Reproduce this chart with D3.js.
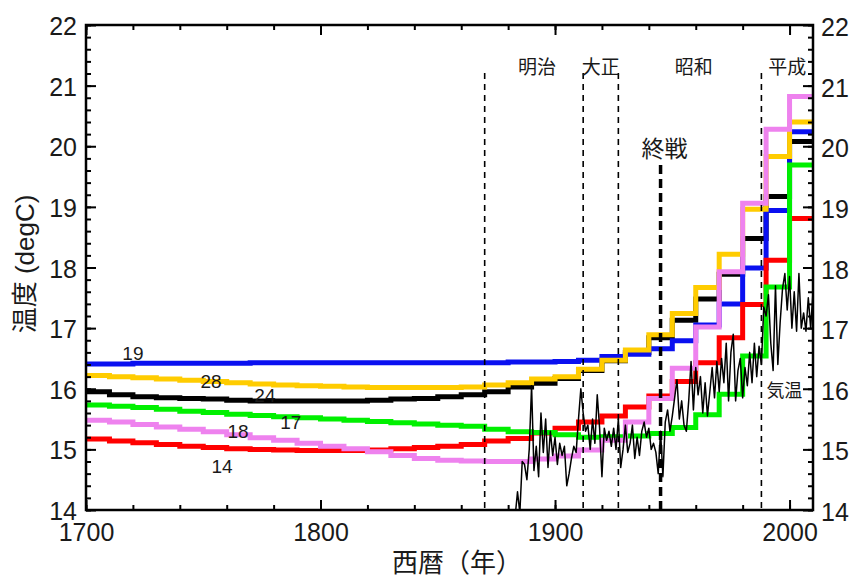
<!DOCTYPE html>
<html>
<head>
<meta charset="utf-8">
<script src="https://cdn.jsdelivr.net/npm/d3@7/dist/d3.min.js"></script>
<style>
  body { margin: 0; background: #fff; }
  text { font-family: "Liberation Sans", Arial, "Noto Sans CJK JP", sans-serif; fill: #1a1a1a; }
</style>
</head>
<body>
<div id="chart"></div>
<script>
// decade bins, each value holds until the next decade
const decades = [1700, 1710, 1720, 1730, 1740, 1750, 1760, 1770, 1780, 1790,
  1800, 1810, 1820, 1830, 1840, 1850, 1860, 1870, 1880, 1890,
  1900, 1910, 1920, 1930, 1940, 1950, 1960, 1970, 1980, 1990, 2000]
const lastYear = 2010

const s19 = [16.41, 16.41, 16.42, 16.42, 16.42, 16.42, 16.42, 16.43, 16.43, 16.43,
  16.43, 16.43, 16.43, 16.43, 16.43, 16.43, 16.43, 16.43, 16.44, 16.44,
  16.45, 16.47, 16.53, 16.57, 16.66, 16.79, 17.05, 17.40, 17.99, 18.94, 20.24]
const s28 = [16.22, 16.20, 16.18, 16.16, 16.14, 16.12, 16.10, 16.08, 16.06, 16.05,
  16.04, 16.03, 16.02, 16.02, 16.02, 16.02, 16.03, 16.06, 16.10, 16.16,
  16.20, 16.32, 16.47, 16.64, 16.89, 17.24, 17.67, 18.22, 18.96, 19.83, 20.40]
const s24 = [15.95, 15.90, 15.87, 15.85, 15.84, 15.83, 15.81, 15.80, 15.80, 15.80,
  15.80, 15.80, 15.81, 15.83, 15.84, 15.87, 15.90, 15.95, 16.03, 16.09,
  16.17, 16.30, 16.46, 16.60, 16.84, 17.13, 17.48, 17.89, 18.48, 19.17, 20.08]
const s17 = [15.73, 15.71, 15.69, 15.66, 15.63, 15.61, 15.58, 15.56, 15.54, 15.52,
  15.50, 15.48, 15.46, 15.44, 15.42, 15.40, 15.38, 15.33, 15.29, 15.28,
  15.24, 15.20, 15.21, 15.22, 15.26, 15.36, 15.57, 15.91, 16.54, 17.68, 19.69]
const s18 = [15.48, 15.45, 15.41, 15.37, 15.33, 15.29, 15.24, 15.19, 15.15, 15.10,
  15.05, 15.01, 14.96, 14.90, 14.85, 14.82, 14.81, 14.80, 14.80, 14.84,
  14.89, 14.99, 15.15, 15.45, 15.84, 16.34, 17.02, 17.93, 19.06, 20.28, 20.82]
const s14 = [15.17, 15.14, 15.11, 15.08, 15.05, 15.03, 15.01, 15.00, 14.99, 14.98,
  14.98, 14.98, 14.99, 15.01, 15.03, 15.05, 15.08, 15.14, 15.18, 15.27,
  15.35, 15.45, 15.55, 15.70, 15.88, 16.12, 16.43, 16.84, 17.39, 18.12, 18.81]

// observed annual temperature (気温), 1883 onwards
const obsStart = 1883
const obs = [13.9, 14.3, 13.95, 14.8, 14.75, 14.5, 15.0, 16.05, 14.65, 15.05,
  14.55, 15.6, 14.95, 15.5, 14.7, 15.3, 14.9, 15.2, 14.75, 15.1,
  14.9, 15.05, 14.4, 14.6, 14.85, 15.05, 14.95, 15.5, 16.0, 15.6,
  15.3, 15.4, 15.0, 15.5, 15.1, 15.9, 15.35, 14.55, 15.35, 15.15,
  15.3, 15.05, 15.35, 15.0, 15.5, 14.7, 15.0, 15.4, 14.95, 15.1,
  15.4, 14.85, 15.2, 14.9, 15.3, 15.45, 15.2, 15.35, 15.0, 15.1,
  14.95, 14.6, 15.3, 14.55, 15.45, 15.65, 15.3, 15.55, 15.85, 16.15,
  15.5, 15.8, 15.4, 15.3, 15.8, 16.45, 15.65, 16.35, 15.9, 16.2,
  15.6, 16.1, 15.55, 15.95, 16.35, 15.85, 16.45, 15.95, 16.5, 16.1,
  16.75, 15.8, 16.6, 16.9, 15.8, 16.3, 16.5, 15.85, 16.35, 16.05,
  16.6, 16.1, 16.75, 16.2, 16.7, 16.4, 17.35, 17.2, 17.55, 16.75,
  16.3, 17.7, 16.4, 17.1, 17.65, 17.9, 17.3, 17.85, 17.0, 17.6,
  16.95, 17.9, 17.0, 17.25, 16.95, 17.5, 17.0, 17.6]

const eraNames = ['明治', '大正', '昭和', '平成']
const eraStarts = [1870, 1912, 1927, 1988]
const warYear = 1945

const xTickLabels = [1700, 1800, 1900, 2000]
const yTickLabels = [14, 15, 16, 17, 18, 19, 20, 21, 22]

const width = 850
const height = 578
const plot = { left: 86, right: 813, top: 25, bottom: 510 }

const x = d3.scaleLinear().domain([1700, lastYear]).range([plot.left, plot.right])
const y = d3.scaleLinear().domain([14, 22]).range([plot.bottom, plot.top])

const svg = d3.select('#chart').append('svg')
  .attr('width', width)
  .attr('height', height)

svg.append('defs').append('clipPath').attr('id', 'plotclip')
  .append('rect')
  .attr('x', plot.left).attr('y', plot.top)
  .attr('width', plot.right - plot.left).attr('height', plot.bottom - plot.top)

// step curves
const series = [
  { label: '24', color: '#000000', values: s24, at: [1776.3, 15.78] },
  { label: '19', color: '#0a10f0', values: s19, at: [1720, 16.47] },
  { label: '14', color: '#ff0000', values: s14, at: [1758, 14.61] },
  { label: '17', color: '#00f000', values: s17, at: [1787.3, 15.34] },
  { label: '28', color: '#ffcc00', values: s28, at: [1753.3, 16.01] },
  { label: '18', color: '#ee82ee', values: s18, at: [1764.8, 15.19] }
]

const step = d3.line()
  .x(d => x(d[0]))
  .y(d => y(d[1]))
  .curve(d3.curveStepAfter)

const lines = svg.append('g').attr('clip-path', 'url(#plotclip)')

series.forEach(s => {
  const pts = decades.map((yr, i) => [yr, s.values[i]])
  pts.push([lastYear, s.values[s.values.length - 1]])
  lines.append('path')
    .attr('d', step(pts))
    .attr('fill', 'none')
    .attr('stroke', s.color)
    .attr('stroke-width', 5)
    .attr('stroke-linejoin', 'miter')
})

const obsLine = d3.line()
  .x((d, i) => x(obsStart + i))
  .y(d => y(d))

lines.append('path')
  .attr('d', obsLine(obs))
  .attr('fill', 'none')
  .attr('stroke', '#000')
  .attr('stroke-width', 1.5)
  .attr('stroke-linejoin', 'round')

// era boundaries
svg.append('g').selectAll('line')
  .data(eraStarts)
  .join('line')
  .attr('x1', d => x(d)).attr('x2', d => x(d))
  .attr('y1', 73).attr('y2', plot.bottom)
  .attr('stroke', '#000')
  .attr('stroke-width', 1.6)
  .attr('stroke-dasharray', '6,5')

svg.append('line')
  .attr('x1', x(warYear)).attr('x2', x(warYear))
  .attr('y1', 165).attr('y2', plot.bottom)
  .attr('stroke', '#000')
  .attr('stroke-width', 3.5)
  .attr('stroke-dasharray', '9,5')

const eraEnds = eraStarts.slice(1).concat([lastYear])
svg.append('g').selectAll('text')
  .data(eraNames)
  .join('text')
  .attr('x', (d, i) => x((eraStarts[i] + eraEnds[i]) / 2) + (i === 0 ? 3 : i === 2 ? 4 : 0))
  .attr('y', 74)
  .attr('text-anchor', 'middle')
  .style('font-size', '19px')
  .text(d => d)

svg.append('text')
  .attr('x', x(warYear) + 4).attr('y', 157)
  .attr('text-anchor', 'middle')
  .style('font-size', '23px')
  .text('終戦')

svg.append('text')
  .attr('x', x(1997.8)).attr('y', 397)
  .attr('text-anchor', 'middle')
  .style('font-size', '18px')
  .text('気温')

svg.append('g').selectAll('text')
  .data(series)
  .join('text')
  .attr('x', d => x(d.at[0]))
  .attr('y', d => y(d.at[1]))
  .attr('text-anchor', 'middle')
  .style('font-size', '19px')
  .text(d => d.label)

// axes, ticks point inward on all four sides
const xMinor = d3.range(1700, lastYear + 1, 20)
const yMinor = d3.range(14, 22.01, 0.2)

function styleAxis(g) {
  g.select('.domain').remove()
  g.selectAll('.tick line').attr('stroke', '#000').attr('stroke-width', 2)
  g.selectAll('.tick text').style('font-size', '25px').attr('fill', '#1a1a1a')
}

svg.append('g').attr('transform', `translate(0,${plot.bottom})`)
  .call(d3.axisBottom(x).tickValues(xMinor).tickSize(-5).tickFormat(''))
  .call(styleAxis)
svg.append('g').attr('transform', `translate(0,${plot.bottom})`)
  .call(d3.axisBottom(x).tickValues(xTickLabels).tickSize(-10).tickPadding(13).tickFormat(d3.format('d')))
  .call(styleAxis)
svg.append('g').attr('transform', `translate(0,${plot.top})`)
  .call(d3.axisTop(x).tickValues(xMinor).tickSize(-5).tickFormat(''))
  .call(styleAxis)
svg.append('g').attr('transform', `translate(0,${plot.top})`)
  .call(d3.axisTop(x).tickValues(xTickLabels).tickSize(-10).tickFormat(''))
  .call(styleAxis)

svg.append('g').attr('transform', `translate(${plot.left},0)`)
  .call(d3.axisLeft(y).tickValues(yMinor).tickSize(-5).tickFormat(''))
  .call(styleAxis)
svg.append('g').attr('transform', `translate(${plot.left},0)`)
  .call(d3.axisLeft(y).tickValues(yTickLabels).tickSize(-10).tickPadding(9).tickFormat(d3.format('d')))
  .call(styleAxis)
  .selectAll('.tick text').attr('dy', '0.38em')
svg.append('g').attr('transform', `translate(${plot.right},0)`)
  .call(d3.axisRight(y).tickValues(yMinor).tickSize(-5).tickFormat(''))
  .call(styleAxis)
svg.append('g').attr('transform', `translate(${plot.right},0)`)
  .call(d3.axisRight(y).tickValues(yTickLabels).tickSize(-10).tickPadding(8).tickFormat(d3.format('d')))
  .call(styleAxis)
  .selectAll('.tick text').attr('dy', '0.42em')

svg.append('rect')
  .attr('x', plot.left).attr('y', plot.top)
  .attr('width', plot.right - plot.left).attr('height', plot.bottom - plot.top)
  .attr('fill', 'none')
  .attr('stroke', '#000')
  .attr('stroke-width', 2.5)

svg.append('text')
  .attr('transform', `translate(25,264) rotate(-90)`)
  .attr('text-anchor', 'middle')
  .attr('dominant-baseline', 'central')
  .style('font-size', '26px')
  .text('温度 (degC)')

svg.append('text')
  .attr('x', 457).attr('y', 572)
  .attr('text-anchor', 'middle')
  .style('font-size', '26px')
  .text('西暦（年）')
</script>
</body>
</html>
